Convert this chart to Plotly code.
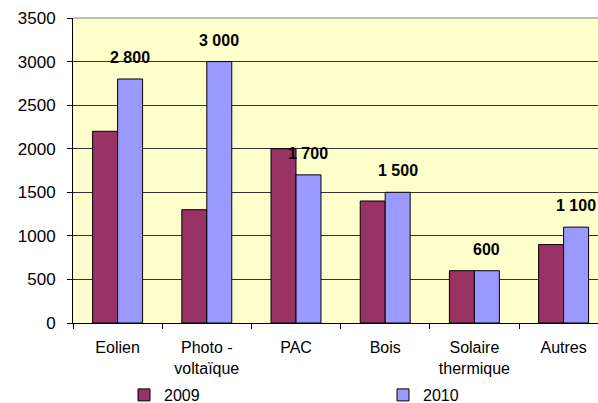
import plotly.graph_objects as go

# Energy sectors (categories) and yearly values
categories = ["Eolien", "Photo -<br>voltaïque", "PAC", "Bois", "Solaire<br>thermique", "Autres"]
values_2009 = [2200, 1300, 2000, 1400, 600, 900]
values_2010 = [2800, 3000, 1700, 1500, 600, 1100]
y_ticks = [0, 500, 1000, 1500, 2000, 2500, 3000, 3500]

FONT = "Liberation Sans, Arial, sans-serif"
W, H = 598, 403
M_L, M_T, M_B = 73, 18, 80
CAT_PX = 89.2  # width of one category slot in pixels
BARGAP = 0.44
plot_w = W - M_L
x_max = -0.5 + plot_w / CAT_PX
bar_px = CAT_PX * (1 - BARGAP) / 2


def fmt(v):
    return f"{v:,}".replace(",", " ")


fig = go.Figure()
fig.add_trace(go.Bar(
    x=categories, y=values_2009, name="2009", legend="legend",
    marker=dict(color="#993366", line=dict(color="#000000", width=1)),
))
fig.add_trace(go.Bar(
    x=categories, y=values_2010, name="2010", legend="legend2",
    marker=dict(color="#9999FF", line=dict(color="#000000", width=1)),
))

# value labels above the 2010 bars
for c, v in zip(categories, values_2010):
    fig.add_annotation(
        x=c, y=v, xref="x", yref="y", text=f"<b>{fmt(v)}</b>",
        showarrow=False, xanchor="center", yanchor="bottom",
        xshift=bar_px / 2, yshift=11,
        font=dict(family=FONT, size=16, color="#000000"),
    )

# plot-area top border
fig.add_shape(type="line", xref="paper", yref="paper", x0=0, x1=1, y0=1, y1=1,
              line=dict(color="#808080", width=1))

legend_common = dict(
    orientation="h", xanchor="left", yanchor="middle",
    xref="container", yref="container", y=1 - 395 / H,
    font=dict(family=FONT, size=16), bgcolor="rgba(0,0,0,0)",
)

fig.update_layout(
    width=W, height=H,
    margin=dict(l=M_L, r=0, t=M_T, b=M_B, autoexpand=False),
    paper_bgcolor="#FFFFFF", plot_bgcolor="#FFFFCC",
    barmode="group", bargap=BARGAP, bargroupgap=0,
    font=dict(family=FONT, size=16, color="#000000"),
    showlegend=True,
    legend=dict(x=124 / W, **legend_common),
    legend2=dict(x=383 / W, **legend_common),
    xaxis=dict(
        type="category", range=[-0.5, x_max], tickson="boundaries",
        ticks="outside", ticklen=5, tickcolor="#000000",
        showline=True, linecolor="#000000", linewidth=1,
        showgrid=False, tickfont=dict(family=FONT, size=16),
        ticklabelstandoff=10, fixedrange=True, automargin=False,
    ),
    yaxis=dict(
        range=[0, 3500], tickvals=y_ticks, ticktext=[str(t) for t in y_ticks],
        ticks="outside", ticklen=5, tickcolor="#000000",
        showline=True, linecolor="#000000", linewidth=1,
        showgrid=True, gridcolor="#333333", gridwidth=1, zeroline=False,
        tickfont=dict(family=FONT, size=17), ticklabelstandoff=8,
        fixedrange=True, automargin=False,
    ),
)

fig.write_html("out.html", config={"displayModeBar": False})
